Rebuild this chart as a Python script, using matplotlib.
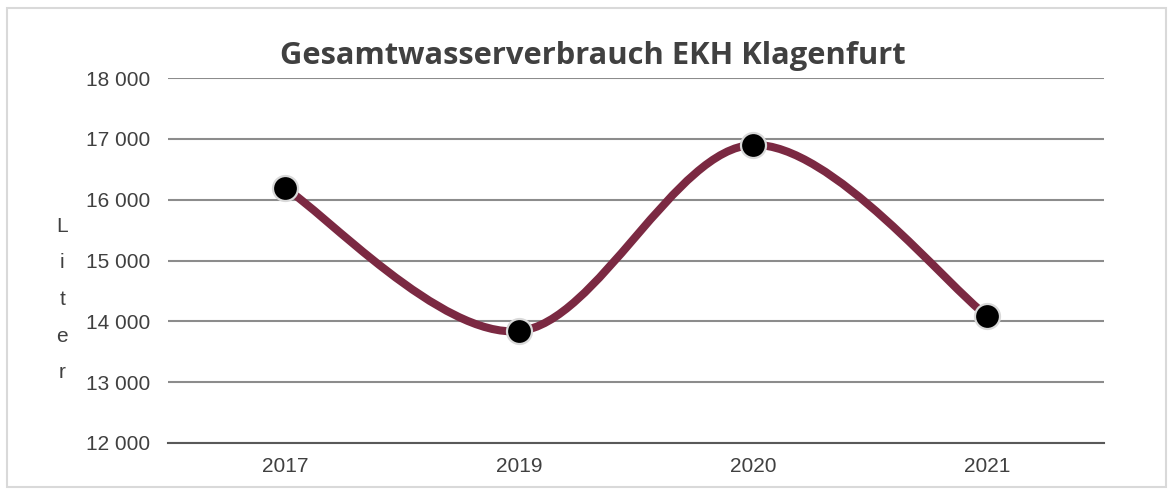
import matplotlib
matplotlib.use("Agg")
import matplotlib.pyplot as plt
from matplotlib.path import Path
from matplotlib.patches import PathPatch, Rectangle
from matplotlib.ticker import FuncFormatter

jahre = ["2017", "2019", "2020", "2021"]
verbrauch = [16190, 13840, 16900, 14090]

titel = "Gesamtwasserverbrauch EKH Klagenfurt"
y_label = "Liter"

linien_farbe = "#7B2942"
text_farbe = "#404040"

fig = plt.figure(figsize=(11.73, 4.91), dpi=100)
ax = fig.add_axes([0.1432, 0.0978, 0.798, 0.7433])

x = [i + 0.5 for i in range(len(jahre))]

# geglättete Linie wie in Excel (Bezier zwischen den Punkten)
n = len(x)
verts = [(x[0], verbrauch[0])]
codes = [Path.MOVETO]
for i in range(n - 1):
    x_prev = x[i - 1] if i > 0 else x[i]
    y_prev = verbrauch[i - 1] if i > 0 else verbrauch[i]
    x_next = x[i + 2] if i + 2 < n else x[i + 1]
    y_next = verbrauch[i + 2] if i + 2 < n else verbrauch[i + 1]
    c1 = (x[i] + (x[i + 1] - x_prev) / 6, verbrauch[i] + (verbrauch[i + 1] - y_prev) / 6)
    c2 = (x[i + 1] - (x_next - x[i]) / 6, verbrauch[i + 1] - (y_next - verbrauch[i]) / 6)
    verts += [c1, c2, (x[i + 1], verbrauch[i + 1])]
    codes += [Path.CURVE4, Path.CURVE4, Path.CURVE4]

kurve = PathPatch(Path(verts, codes), facecolor="none", edgecolor=linien_farbe,
                  lw=5.8, capstyle="round", zorder=3)
ax.add_patch(kurve)
ax.plot(x, verbrauch, linestyle="none", marker="o", markersize=18,
        markerfacecolor="black", markeredgecolor="#D9D9D9", markeredgewidth=1.6, zorder=4)

ax.set_xlim(0, len(jahre))
ax.set_ylim(12000, 18000)
ax.set_yticks(range(12000, 18001, 1000))
ax.yaxis.set_major_formatter(FuncFormatter(lambda v, p: f"{v:,.0f}".replace(",", " ")))
ax.set_xticks(x)
ax.set_xticklabels(jahre)

ax.grid(axis="y", color="#8C8C8C", lw=1.5)
ax.set_axisbelow(True)
for s in ["top", "right", "left"]:
    ax.spines[s].set_visible(False)
ax.spines["bottom"].set_color("#595959")
ax.spines["bottom"].set_linewidth(1.5)
ax.tick_params(length=0, labelsize=15, labelcolor=text_farbe)
ax.tick_params(axis="y", pad=13)
ax.tick_params(axis="x", pad=10)
for lab in ax.get_xticklabels() + ax.get_yticklabels():
    lab.set_fontfamily("Liberation Sans")

fig.text(0.505, 0.886, titel, ha="center", va="center", fontsize=22.2,
         fontweight="bold", color=text_farbe, family="Open Sans")
fig.text(0.053, 0.39, "\n".join(y_label), ha="center", va="center", fontsize=15,
         color=text_farbe, family="Liberation Sans", linespacing=2.17)

fig.patches.append(Rectangle((7 / 1173, 4 / 491), 1159 / 1173, 479 / 491,
                             transform=fig.transFigure, fill=False,
                             edgecolor="#D9D9D9", lw=1.5))

fig.savefig("out.png", dpi=100)
